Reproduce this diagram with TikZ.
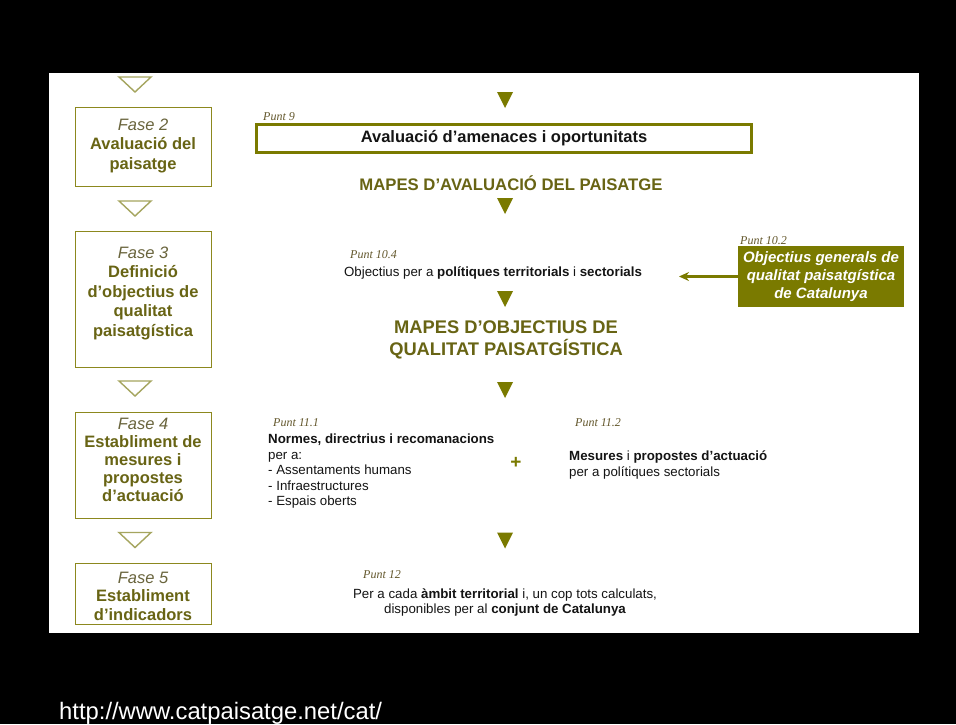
\documentclass[tikz,border=0pt]{standalone}
\usepackage{fontspec}
\setmainfont{Liberation Sans}
\newfontfamily\serifit{Liberation Serif}
\usetikzlibrary{arrows.meta}
\definecolor{olivefill}{RGB}{122,122,0}
\definecolor{olivetext}{RGB}{104,100,20}
\definecolor{faseit}{RGB}{105,100,60}
\definecolor{olivebox}{RGB}{140,136,30}
\definecolor{olivetri}{RGB}{165,165,95}
\definecolor{puntcol}{RGB}{100,88,45}
\definecolor{bodytext}{RGB}{20,20,20}
\tikzset{
  x=1pt,y=-1pt,
  fasebox/.style={draw=olivebox,line width=0.8pt,minimum width=136pt,inner sep=0pt},
  fasetext/.style={align=center,text=olivetext,font=\fontsize{16.5}{19.5}\selectfont\bfseries,inner sep=0pt},
  puntlab/.style={font=\fontsize{12}{14}\selectfont\serifit\itshape,text=puntcol,inner sep=0pt,anchor=base west},
  body/.style={font=\fontsize{13.3}{15.5}\selectfont,text=bodytext,inner sep=0pt},
  mapes/.style={font=\fontsize{16.7}{22}\selectfont\bfseries,text=olivetext,align=center,inner sep=0pt},
  hollowtri/.pic={\draw[olivetri,line width=1.4pt,line join=miter] (-16,-7.5) -- (16,-7.5) -- (0,7.5) -- cycle;},
  filltri/.pic={\fill[olivefill] (-8,-8) -- (8,-8) -- (0,8) -- cycle;}
}
\newcommand{\fasettl}[1]{{\mdseries\itshape\color{faseit}#1}}
\begin{document}
\begin{tikzpicture}
\useasboundingbox (0,0) rectangle (956,724);
\fill[black] (0,0) rectangle (956,724);
\fill[white] (49,73) rectangle (919,633);

% left column
\pic at (135,84.5) {hollowtri};
\node[fasebox,minimum height=79pt] (f2) at (143,146.5) {};
\node[fasetext] (f2t) at (143,145.5) {\fasettl{Fase 2}\\Avaluació del\\paisatge};
\pic at (135,208.5) {hollowtri};
\node[fasebox,minimum height=136pt] (f3) at (143,299) {};
\node[fasetext] (f3t) at (143,293) {\fasettl{Fase 3}\\Definició\\d’objectius de\\qualitat\\paisatgística};
\pic at (135,388.5) {hollowtri};
\node[fasebox,minimum height=106pt] (f4) at (143,465) {};
\node[fasetext,font=\fontsize{16.5}{18}\selectfont\bfseries] (f4t) at (143,460) {\fasettl{Fase 4}\\Establiment de\\mesures i\\propostes\\d’actuació};
\pic at (135,540) {hollowtri};
\node[fasebox,minimum height=61pt] (f5) at (143,593.5) {};
\node[fasetext,font=\fontsize{16.5}{18.5}\selectfont\bfseries] (f5t) at (143,596) {\fasettl{Fase 5}\\Establiment\\d’indicadors};

% centre column
\pic at (505,100) {filltri};
\node[draw=olivefill,line width=3pt,minimum width=495pt,minimum height=28pt,inner sep=0pt,
      font=\fontsize{16.5}{19}\selectfont\bfseries,text=bodytext] (p9) at (504,138.5) {Avaluació d’amenaces i oportunitats};
\node[puntlab] (p9l) at (263,120.5) {Punt 9};
\node[mapes] (m1) at (511,183.5) {MAPES D’AVALUACIÓ DEL PAISATGE};
\pic at (505,206) {filltri};

\node[puntlab] (p104l) at (350,258) {Punt 10.4};
\node[body] (p104) at (493,272.5) {Objectius per a \textbf{polítiques territorials} i \textbf{sectorials}};
\pic at (505,299) {filltri};

\node[fill=olivefill,minimum width=166pt,minimum height=61pt,inner sep=0pt,align=center,text=white,
      font=\fontsize{15}{18}\selectfont\bfseries\itshape] (p102) at (821,276.5) {Objectius generals de\\qualitat paisatgística\\de Catalunya};
\node[puntlab] (p102l) at (740,244.5) {Punt 10.2};
\coordinate (arrend) at (679,276.5);
\draw[olivefill,line width=2.5pt,-{Stealth[length=10pt,width=9pt]}] (p102.west) -- (arrend);

\node[mapes,font=\fontsize{18.3}{22}\selectfont\bfseries] (m2) at (506,340) {MAPES D’OBJECTIUS DE\\QUALITAT PAISATGÍSTICA};
\pic at (505,390) {filltri};

\node[puntlab] (p111l) at (273,426.5) {Punt 11.1};
\node[body,anchor=north west,align=left] (p111) at (268,434) {\textbf{Normes, directrius i recomanacions}\\per a:\\- Assentaments humans\\- Infraestructures\\- Espais oberts};
\node[font=\fontsize{19}{20}\selectfont\bfseries,text=olivefill,inner sep=0pt] (plus) at (516,463) {+};
\node[puntlab] (p112l) at (575,426.5) {Punt 11.2};
\node[body,anchor=north west,align=left] (p112) at (569,451) {\textbf{Mesures} i \textbf{propostes d’actuació}\\per a polítiques sectorials};
\pic at (505,540.5) {filltri};

\node[puntlab] (p12l) at (363,578.5) {Punt 12};
\node[body,align=center] (p12) at (505,602.5) {Per a cada \textbf{àmbit territorial} i, un cop tots calculats,\\disponibles per al \textbf{conjunt de Catalunya}};

\node[anchor=west,text=white,font=\fontsize{23.8}{26}\selectfont,inner sep=0pt] (url) at (59,713) {http://www.catpaisatge.net/cat/};
\end{tikzpicture}
\end{document}
